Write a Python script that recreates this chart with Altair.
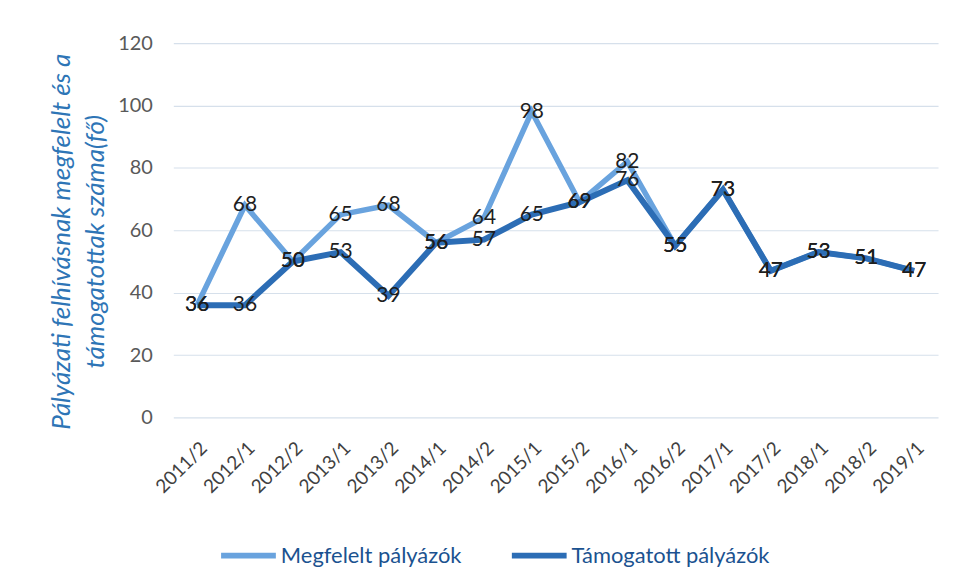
import altair as alt
import pandas as pd

periods = ["2011/2", "2012/1", "2012/2", "2013/1", "2013/2", "2014/1", "2014/2", "2015/1",
           "2015/2", "2016/1", "2016/2", "2017/1", "2017/2", "2018/1", "2018/2", "2019/1"]
megfelelt = [36, 68, 50, 65, 68, 56, 64, 98, 69, 82, 55, 73, 47, 53, 51, 47]
tamogatott = [36, 36, 50, 53, 39, 56, 57, 65, 69, 76, 55, 73, 47, 53, 51, 47]
series_names = ["Megfelelt pályázók", "Támogatott pályázók"]
series_colors = ["#69A3DE", "#2C6DB5"]

rows = []
for p, a, b in zip(periods, megfelelt, tamogatott):
    rows.append({"period": p, "series": series_names[0], "value": a})
    rows.append({"period": p, "series": series_names[1], "value": b})
df = pd.DataFrame(rows)

FONT = "Lato"

x = alt.X("period:N", sort=periods, scale=alt.Scale(paddingInner=0, paddingOuter=0.5),
          axis=alt.Axis(title=None, labelAngle=-45, labelFontSize=19, labelColor="#404040",
                        labelFont=FONT, ticks=False, domain=False, labelPadding=21, grid=False))
y = alt.Y("value:Q", scale=alt.Scale(domain=[0, 120], nice=False),
          axis=alt.Axis(values=[0, 20, 40, 60, 80, 100, 120],
                        title=["Pályázati felhívásnak megfelelt és a", "támogatottak száma(fő)"],
                        titleFont=FONT, titleFontStyle="italic", titleFontWeight="normal",
                        titleFontSize=26, titleColor="#2E75B6", titleAngle=-90,
                        titleX=-112, titleY=199, titleAlign="center", titleBaseline="middle",
                        titleLineHeight=34,
                        labelFont=FONT, labelFontSize=20, labelColor="#595959",
                        labelPadding=21, ticks=False, domain=False,
                        grid=True, gridColor="#D6E0EB", gridWidth=1.2))

color = alt.Color("series:N", scale=alt.Scale(domain=series_names, range=series_colors),
                  legend=alt.Legend(title=None, orient="none", direction="horizontal",
                                    legendX=45, legendY=484,
                                    symbolType="stroke", symbolStrokeWidth=6, symbolSize=3025,
                                    labelFont=FONT, labelFontSize=22, labelColor="#1B5290",
                                    labelLimit=400, labelOffset=2, columnPadding=38))

base = alt.Chart(df)

light = base.transform_filter(alt.datum.series == series_names[0]).mark_line(strokeWidth=5.5).encode(
    x=x, y=y, color=color)
dark = base.transform_filter(alt.datum.series == series_names[1]).mark_line(strokeWidth=6).encode(
    x=x, y=y, color=color)
labels = base.mark_text(font=FONT, fontSize=21, color="#1E1E1E", baseline="middle", align="center").encode(
    x=x, y=y, text="value:Q")

chart = alt.layer(light, dark, labels).properties(
    width=768, height=376,
    background="white",
    autosize=alt.AutoSizeParams(type="none"),
    padding={"left": 166, "top": 34, "right": 10, "bottom": 156},
).configure_view(stroke=None)

chart.save("out.html", embed_options={"renderer": "svg", "actions": False})
